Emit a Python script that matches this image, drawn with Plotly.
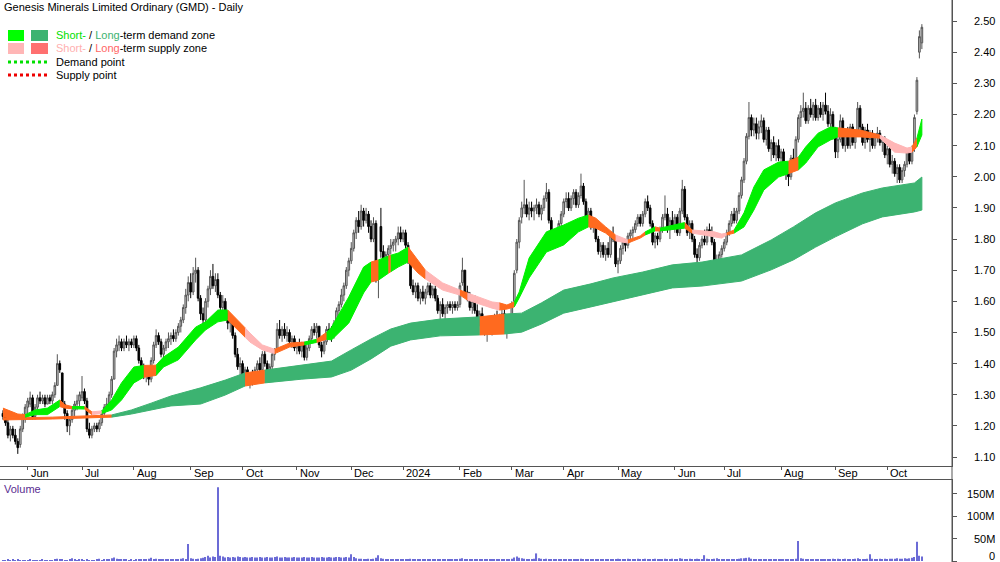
import plotly.graph_objects as go
import pandas as pd

# ---------------- data ----------------
start_date = "2023-05-18"

opens = [
1.24,1.23,1.21,1.17,1.19,1.17,1.15,1.14,1.19,1.22,
1.26,1.27,1.29,1.23,1.26,1.29,1.28,1.29,1.27,1.29,
1.28,1.30,1.33,1.40,1.37,1.27,1.24,1.20,1.22,1.25,
1.27,1.28,1.29,1.31,1.28,1.19,1.17,1.19,1.20,1.19,
1.21,1.24,1.26,1.27,1.30,1.35,1.44,1.46,1.47,1.45,
1.47,1.46,1.47,1.46,1.48,1.45,1.41,1.38,1.36,1.37,
1.35,1.41,1.46,1.49,1.47,1.43,1.45,1.47,1.48,1.49,
1.48,1.50,1.52,1.54,1.58,1.62,1.66,1.63,1.69,1.70,
1.61,1.56,1.54,1.60,1.64,1.68,1.65,1.67,1.62,1.58,
1.60,1.56,1.53,1.54,1.49,1.43,1.39,1.40,1.36,1.38,
1.34,1.36,1.35,1.38,1.40,1.38,1.43,1.40,1.36,1.39,
1.43,1.44,1.51,1.49,1.51,1.49,1.50,1.47,1.48,1.45,
1.46,1.44,1.46,1.42,1.45,1.48,1.51,1.50,1.52,1.46,
1.44,1.47,1.51,1.50,1.49,1.53,1.57,1.59,1.62,1.65,
1.70,1.73,1.77,1.82,1.86,1.84,1.89,1.86,1.88,1.84,
1.80,1.85,1.68,1.84,1.76,1.73,1.75,1.77,1.78,1.79,
1.80,1.82,1.80,1.82,1.78,1.73,1.65,1.63,1.65,1.61,
1.63,1.61,1.63,1.65,1.62,1.64,1.61,1.57,1.59,1.56,
1.58,1.59,1.58,1.59,1.58,1.59,1.66,1.70,1.63,1.62,
1.58,1.60,1.57,1.54,1.56,1.52,1.50,1.52,1.51,1.53,
1.55,1.53,1.55,1.56,1.51,1.54,1.55,1.60,1.70,1.79,
1.87,1.90,1.91,1.88,1.90,1.89,1.90,1.91,1.88,1.90,
1.93,1.95,1.86,1.81,1.79,1.82,1.85,1.88,1.92,1.93,
1.90,1.93,1.95,1.91,1.94,1.97,1.92,1.87,1.89,1.84,
1.85,1.80,1.76,1.78,1.75,1.77,1.75,1.81,1.80,1.72,
1.73,1.77,1.79,1.78,1.81,1.82,1.83,1.85,1.87,1.85,
1.88,1.92,1.90,1.85,1.79,1.81,1.80,1.83,1.87,1.88,
1.83,1.86,1.84,1.87,1.82,1.89,1.96,1.87,1.82,1.85,
1.80,1.75,1.74,1.78,1.80,1.79,1.83,1.82,1.79,1.72,
1.73,1.75,1.77,1.79,1.82,1.85,1.88,1.86,1.89,1.94,
1.99,2.05,2.13,2.19,2.15,2.17,2.14,2.16,2.18,2.12,
2.15,2.09,2.11,2.07,2.10,2.06,2.08,2.03,2.02,2.00,
2.06,2.04,2.12,2.19,2.21,2.22,2.18,2.22,2.20,2.23,
2.19,2.22,2.20,2.23,2.21,2.17,2.20,2.13,2.08,2.12,
2.18,2.10,2.14,2.10,2.16,2.11,2.14,2.22,2.16,2.11,
2.15,2.12,2.14,2.10,2.13,2.14,2.11,2.12,2.07,2.09,
2.04,2.05,2.01,2.03,1.99,2.02,2.04,2.08,2.05,2.09,
2.21,2.40,2.43]

highs = [
1.25,1.24,1.22,1.20,1.20,1.19,1.16,1.20,1.24,1.27,
1.29,1.31,1.30,1.27,1.30,1.31,1.30,1.30,1.30,1.30,
1.31,1.34,1.43,1.41,1.37,1.28,1.25,1.23,1.26,1.28,
1.30,1.31,1.36,1.32,1.29,1.21,1.20,1.21,1.21,1.22,
1.25,1.27,1.29,1.31,1.36,1.45,1.48,1.49,1.48,1.48,
1.49,1.48,1.48,1.49,1.49,1.46,1.42,1.40,1.38,1.39,
1.42,1.47,1.51,1.50,1.48,1.46,1.48,1.50,1.50,1.51,
1.51,1.53,1.55,1.59,1.64,1.68,1.69,1.71,1.74,1.71,
1.62,1.58,1.61,1.65,1.70,1.72,1.69,1.69,1.63,1.62,
1.61,1.57,1.55,1.55,1.50,1.45,1.42,1.41,1.39,1.39,
1.37,1.38,1.39,1.41,1.42,1.44,1.44,1.41,1.40,1.44,
1.45,1.53,1.54,1.52,1.53,1.52,1.51,1.49,1.49,1.47,
1.48,1.47,1.47,1.46,1.49,1.52,1.53,1.53,1.52,1.47,
1.48,1.52,1.53,1.52,1.54,1.58,1.60,1.64,1.66,1.71,
1.74,1.79,1.83,1.87,1.89,1.91,1.90,1.90,1.89,1.86,
1.87,1.86,1.72,1.90,1.78,1.76,1.78,1.80,1.80,1.81,
1.84,1.84,1.83,1.83,1.79,1.74,1.67,1.66,1.66,1.64,
1.65,1.64,1.66,1.66,1.65,1.65,1.62,1.60,1.61,1.59,
1.60,1.60,1.60,1.60,1.60,1.66,1.74,1.70,1.65,1.63,
1.61,1.62,1.59,1.57,1.58,1.54,1.53,1.54,1.54,1.56,
1.57,1.56,1.58,1.58,1.55,1.56,1.60,1.70,1.80,1.87,
1.92,1.99,1.93,1.92,1.92,1.91,1.93,1.92,1.91,1.94,
1.98,1.96,1.87,1.83,1.83,1.86,1.89,1.93,1.95,1.95,
1.94,1.96,1.96,1.95,2.01,1.98,1.93,1.90,1.90,1.87,
1.86,1.81,1.79,1.79,1.78,1.79,1.82,1.84,1.81,1.74,
1.78,1.80,1.80,1.82,1.83,1.84,1.86,1.88,1.88,1.89,
1.93,1.94,1.91,1.86,1.82,1.82,1.84,1.88,1.94,1.90,
1.87,1.89,1.88,1.88,1.90,1.99,1.97,1.88,1.86,1.86,
1.81,1.77,1.79,1.81,1.83,1.84,1.85,1.84,1.80,1.75,
1.76,1.78,1.80,1.83,1.86,1.89,1.90,1.90,1.95,2.00,
2.06,2.14,2.24,2.20,2.19,2.19,2.18,2.20,2.19,2.16,
2.16,2.12,2.13,2.11,2.12,2.09,2.09,2.05,2.04,2.07,
2.09,2.13,2.20,2.23,2.27,2.24,2.23,2.25,2.24,2.25,
2.23,2.24,2.24,2.27,2.23,2.22,2.21,2.16,2.13,2.20,
2.19,2.15,2.16,2.17,2.17,2.15,2.24,2.23,2.17,2.16,
2.17,2.15,2.15,2.14,2.16,2.15,2.13,2.13,2.10,2.10,
2.07,2.06,2.04,2.04,2.03,2.05,2.09,2.09,2.10,2.20,
2.32,2.47,2.49]

lows = [
1.22,1.20,1.16,1.15,1.16,1.14,1.11,1.13,1.18,1.21,
1.24,1.26,1.22,1.22,1.25,1.27,1.27,1.26,1.27,1.27,
1.27,1.29,1.33,1.37,1.26,1.22,1.18,1.17,1.21,1.23,
1.25,1.26,1.28,1.27,1.18,1.16,1.16,1.18,1.18,1.18,
1.20,1.23,1.25,1.26,1.29,1.35,1.42,1.44,1.44,1.44,
1.45,1.44,1.45,1.45,1.44,1.40,1.37,1.35,1.34,1.33,
1.34,1.40,1.45,1.46,1.42,1.41,1.44,1.45,1.46,1.47,
1.47,1.49,1.50,1.53,1.56,1.60,1.61,1.62,1.66,1.60,
1.54,1.51,1.53,1.58,1.62,1.64,1.63,1.61,1.56,1.55,
1.55,1.51,1.50,1.48,1.42,1.38,1.36,1.35,1.34,1.33,
1.32,1.33,1.34,1.36,1.37,1.37,1.39,1.35,1.34,1.38,
1.41,1.44,1.48,1.47,1.48,1.47,1.46,1.45,1.44,1.43,
1.43,1.42,1.41,1.41,1.44,1.47,1.49,1.48,1.45,1.42,
1.43,1.46,1.49,1.47,1.48,1.52,1.55,1.58,1.60,1.64,
1.68,1.72,1.76,1.80,1.82,1.83,1.84,1.85,1.82,1.79,
1.79,1.66,1.61,1.74,1.71,1.71,1.73,1.75,1.76,1.76,
1.78,1.79,1.79,1.77,1.72,1.64,1.62,1.61,1.60,1.59,
1.60,1.59,1.62,1.61,1.61,1.60,1.56,1.53,1.55,1.53,
1.56,1.57,1.56,1.57,1.57,1.58,1.65,1.62,1.60,1.57,
1.56,1.56,1.53,1.52,1.51,1.49,1.47,1.50,1.49,1.52,
1.52,1.51,1.54,1.50,1.48,1.52,1.54,1.59,1.69,1.77,
1.85,1.88,1.87,1.86,1.87,1.86,1.88,1.87,1.86,1.89,
1.92,1.85,1.80,1.77,1.78,1.81,1.83,1.87,1.90,1.89,
1.89,1.91,1.90,1.90,1.93,1.91,1.86,1.85,1.83,1.82,
1.79,1.75,1.74,1.74,1.73,1.74,1.74,1.79,1.71,1.69,
1.72,1.75,1.76,1.77,1.79,1.80,1.82,1.84,1.84,1.84,
1.87,1.89,1.84,1.78,1.77,1.78,1.79,1.82,1.86,1.82,
1.80,1.83,1.82,1.81,1.81,1.88,1.86,1.81,1.80,1.79,
1.74,1.72,1.73,1.77,1.78,1.78,1.81,1.78,1.71,1.68,
1.72,1.74,1.76,1.78,1.81,1.84,1.85,1.85,1.88,1.93,
1.98,2.04,2.12,2.13,2.13,2.12,2.12,2.14,2.11,2.10,
2.08,2.05,2.06,2.05,2.05,2.04,2.02,1.99,1.97,1.99,
2.03,2.03,2.11,2.16,2.19,2.17,2.17,2.19,2.18,2.18,
2.18,2.19,2.18,2.20,2.16,2.12,2.12,2.06,2.06,2.11,
2.09,2.08,2.09,2.09,2.10,2.09,2.13,2.15,2.10,2.09,
2.11,2.08,2.09,2.09,2.11,2.10,2.08,2.06,2.04,2.03,
2.01,2.00,1.98,1.98,1.98,2.00,2.03,2.04,2.04,2.08,
2.20,2.38,2.41]

closes = [
1.23,1.21,1.17,1.19,1.17,1.15,1.13,1.19,1.23,1.26,
1.28,1.29,1.23,1.26,1.29,1.28,1.29,1.27,1.29,1.28,
1.30,1.33,1.40,1.38,1.27,1.24,1.20,1.22,1.25,1.27,
1.28,1.30,1.31,1.28,1.19,1.17,1.19,1.20,1.19,1.21,
1.24,1.26,1.27,1.30,1.35,1.44,1.46,1.47,1.45,1.47,
1.46,1.47,1.46,1.48,1.45,1.41,1.38,1.36,1.37,1.35,
1.41,1.46,1.49,1.47,1.43,1.45,1.47,1.48,1.49,1.48,
1.50,1.52,1.54,1.58,1.62,1.66,1.63,1.69,1.70,1.61,
1.56,1.54,1.60,1.64,1.68,1.65,1.67,1.62,1.58,1.60,
1.56,1.53,1.54,1.49,1.43,1.39,1.40,1.36,1.38,1.34,
1.36,1.35,1.38,1.40,1.38,1.43,1.40,1.36,1.39,1.43,
1.44,1.51,1.49,1.51,1.49,1.50,1.47,1.48,1.45,1.46,
1.44,1.46,1.42,1.45,1.48,1.51,1.50,1.52,1.46,1.44,
1.47,1.51,1.50,1.49,1.53,1.57,1.59,1.62,1.65,1.70,
1.73,1.77,1.82,1.86,1.84,1.89,1.86,1.88,1.84,1.80,
1.85,1.68,1.70,1.76,1.73,1.75,1.77,1.78,1.79,1.80,
1.82,1.80,1.82,1.78,1.73,1.65,1.63,1.65,1.61,1.63,
1.61,1.63,1.65,1.62,1.64,1.61,1.57,1.59,1.56,1.58,
1.59,1.58,1.59,1.58,1.59,1.65,1.70,1.63,1.62,1.58,
1.60,1.57,1.54,1.56,1.52,1.50,1.52,1.51,1.53,1.55,
1.53,1.55,1.56,1.51,1.54,1.55,1.59,1.69,1.79,1.86,
1.90,1.91,1.88,1.90,1.89,1.90,1.91,1.88,1.90,1.93,
1.95,1.86,1.81,1.79,1.82,1.85,1.88,1.92,1.93,1.90,
1.93,1.95,1.91,1.94,1.97,1.92,1.87,1.89,1.84,1.85,
1.80,1.76,1.78,1.75,1.77,1.75,1.81,1.80,1.72,1.73,
1.77,1.79,1.78,1.81,1.82,1.83,1.85,1.87,1.85,1.88,
1.92,1.90,1.85,1.79,1.81,1.80,1.83,1.87,1.88,1.83,
1.86,1.84,1.87,1.82,1.89,1.96,1.87,1.82,1.85,1.80,
1.75,1.74,1.78,1.80,1.79,1.83,1.82,1.79,1.72,1.73,
1.75,1.77,1.79,1.82,1.85,1.88,1.86,1.89,1.94,1.99,
2.05,2.13,2.19,2.15,2.17,2.14,2.16,2.18,2.12,2.15,
2.09,2.11,2.07,2.10,2.06,2.08,2.03,2.02,2.00,2.06,
2.04,2.12,2.19,2.21,2.22,2.18,2.22,2.20,2.23,2.19,
2.22,2.20,2.23,2.21,2.17,2.20,2.13,2.08,2.12,2.18,
2.10,2.14,2.10,2.16,2.11,2.14,2.22,2.16,2.11,2.15,
2.12,2.14,2.10,2.13,2.14,2.11,2.12,2.07,2.09,2.04,
2.05,2.01,2.03,1.99,2.02,2.04,2.08,2.05,2.09,2.19,
2.31,2.45,2.48]

volume_m = [
2,1.5,3,2,2.5,2,3,2,1.5,2,
2,3,2,1.5,2,2,3,2,2,1.5,
2,3,5,3,2.5,2,2,3,6,3,
2,3,4,2,3,2,2,2,3,5,
2,3,3,4,6,8,5,4,3,3,
3,2,3,2,3,4,3,3,4,5,
7,4,5,3,3,3,4,3,3,4,
4,3,5,6,4,38,6,5,4,5,
6,7,9,12,8,10,9,165,12,10,
8,9,8,9,8,10,9,8,9,8,
8,9,8,8,9,8,8,9,8,8,
9,10,8,8,9,8,8,8,9,8,
8,8,9,8,8,9,8,8,8,9,
8,8,9,8,8,9,9,8,8,9,
8,15,9,6,5,5,4,4,5,4,
5,7,13,6,5,4,4,3,4,3,
3,4,3,3,4,5,4,3,3,3,
3,4,3,3,3,4,3,3,4,3,
3,3,4,3,3,5,6,4,3,3,
3,4,3,3,3,3,4,3,3,3,
3,4,3,4,3,4,5,8,10,7,
6,5,4,4,4,5,17,6,5,4,
5,4,4,3,3,4,4,3,4,3,
3,4,3,4,5,4,3,3,4,3,
4,3,3,4,3,3,4,3,4,5,
4,4,4,5,4,4,4,5,4,4,
5,4,4,4,5,4,4,4,5,4,
4,5,4,4,6,5,4,4,5,4,
4,5,4,4,13,5,4,4,5,6,
4,4,4,3,4,3,4,4,5,6,
6,7,8,5,4,4,4,3,4,4,
3,4,4,3,4,4,3,4,4,3,
4,5,45,6,5,4,4,4,4,3,
4,4,3,4,4,4,5,4,5,4,
4,5,4,4,4,5,6,4,4,4,
5,15,5,4,4,5,4,5,4,5,
5,5,6,5,5,6,5,6,7,9,
43,12,10]

# Short-term zone: sample day index, upper / lower edge, state of the segment that starts here
# d = demand (green), s = supply (pink), x = contested (orange)
short_idx = [0,6,9,13,18,23,25,28,33,36,40,44,48,53,57,62,65,71,78,82,87,91,95,98,100,105,110,116,
             122,127,131,133,140,146,149,152,156,157,160,164,168,171,178,185,188,198,201,204,207,209,
             213,220,227,233,237,240,244,248,253,258,260,264,266,271,276,279,288,291,293,296,300,304,
             308,314,318,322,325,330,335,338,347,355,361,366,368,370,372]
short_top = [1.257,1.238,1.236,1.251,1.257,1.283,1.268,1.262,1.262,1.245,1.248,1.283,1.338,1.389,1.394,
             1.395,1.421,1.453,1.517,1.534,1.572,1.572,1.540,1.515,1.498,1.460,1.446,1.466,1.469,1.478,
             1.500,1.517,1.614,1.710,1.726,1.733,1.745,1.748,1.755,1.774,1.733,1.700,1.659,1.636,1.627,
             1.598,1.595,1.588,1.598,1.630,1.739,1.823,1.845,1.867,1.877,1.867,1.839,1.813,1.797,1.810,
             1.823,1.839,1.835,1.845,1.853,1.829,1.823,1.816,1.819,1.829,1.884,1.967,2.022,2.047,2.050,
             2.063,2.096,2.140,2.160,2.157,2.150,2.134,2.108,2.092,2.096,2.124,2.185]
short_bot = [1.228,1.225,1.228,1.236,1.236,1.262,1.257,1.255,1.254,1.236,1.240,1.251,1.283,1.338,1.356,
             1.362,1.389,1.412,1.476,1.508,1.534,1.540,1.508,1.485,1.469,1.444,1.432,1.453,1.460,1.468,
             1.478,1.476,1.530,1.627,1.662,1.668,1.690,1.695,1.710,1.726,1.691,1.672,1.636,1.620,1.604,
             1.578,1.572,1.575,1.582,1.611,1.675,1.758,1.781,1.823,1.839,1.835,1.819,1.794,1.787,1.803,
             1.813,1.826,1.826,1.830,1.835,1.819,1.807,1.803,1.813,1.819,1.839,1.893,1.957,1.999,2.010,
             2.022,2.044,2.096,2.118,2.128,2.128,2.124,2.079,2.076,2.079,2.096,2.134]
short_state = ["x","x","d","d","d","x","x","d","x","s","d","d","d","d","x","d","d","d","d","d","d","x","x",
               "s","s","s","x","x","d","x","d","d","d","d","x","d","x","d","d","x","x","s","s","x","s","s",
               "x","x","d","d","d","d","d","d","x","x","x","s","x","x","d","x","d","d","x","s","s","s","x",
               "d","d","d","d","d","x","d","d","d","d","x","x","s","s","s","x","d","d"]

# Long-term zone
long_idx = [0,20,44,52,60,68,80,90,98,106,121,133,141,149,157,165,177,193,203,210,218,227,238,247,259,
            271,283,299,311,320,329,337,348,356,369,372]
long_top = [1.225,1.228,1.235,1.251,1.273,1.296,1.322,1.347,1.370,1.379,1.395,1.408,1.444,1.479,1.511,
            1.530,1.543,1.550,1.559,1.562,1.595,1.636,1.656,1.675,1.694,1.717,1.726,1.749,1.797,1.839,
            1.884,1.916,1.948,1.964,1.980,1.999]
long_bot = [1.219,1.222,1.228,1.238,1.251,1.264,1.270,1.299,1.328,1.338,1.350,1.357,1.379,1.415,1.456,
            1.476,1.489,1.492,1.495,1.501,1.527,1.562,1.582,1.598,1.620,1.643,1.649,1.665,1.701,1.733,
            1.774,1.807,1.849,1.871,1.887,1.893]
long_state = ["x","x","d","d","d","d","d","d","x","d","d","d","d","d","d","d","d","x","d","d","d","d",
              "d","d","d","d","d","d","d","d","d","d","d","d","d","d"]

price_ticks = [1.10,1.20,1.30,1.40,1.50,1.60,1.70,1.80,1.90,2.00,2.10,2.20,2.30,2.40,2.50]
volume_ticks = [0, 50e6, 100e6, 150e6]
volume_tick_text = ["0", "50M", "100M", "150M"]

# ---------------- figure ----------------
W, H = 1000, 562
n = len(closes)
idx = list(range(n))
dates = pd.bdate_range(start_date, periods=n)
volumes = [v * 1e6 for v in volume_m]

def px_x(px):
    return px / W

def px_y(py):
    return 1 - py / H

FONT = "Arial, Liberation Sans, sans-serif"

short_colors = {"d": "#00f000", "s": "#ffb6b6", "x": "#ff6a1f"}
long_colors = {"d": "#3cb371", "s": "#ff7070", "x": "#ff6a1f"}

fig = go.Figure()

def add_band(bidx, top, bot, state, colors):
    k = 0
    m = len(bidx)
    while k < m - 1:
        s = state[k]
        j = k
        while j < m - 1 and state[j] == s:
            j += 1
        xs = bidx[k:j + 1] + bidx[k:j + 1][::-1]
        ys = top[k:j + 1] + bot[k:j + 1][::-1]
        fig.add_trace(go.Scatter(x=xs, y=ys, fill="toself", fillcolor=colors[s], mode="lines",
                                 line=dict(color=colors[s], width=1), hoverinfo="skip",
                                 showlegend=False, xaxis="x", yaxis="y"))
        k = j

add_band(long_idx, long_top, long_bot, long_state, long_colors)
add_band(short_idx, short_top, short_bot, short_state, short_colors)

fig.add_trace(go.Candlestick(
    x=idx, open=opens, high=highs, low=lows, close=closes,
    increasing=dict(line=dict(color="#555555", width=1), fillcolor="#c4c4c4"),
    decreasing=dict(line=dict(color="#000000", width=1), fillcolor="#000000"),
    whiskerwidth=0, showlegend=False, xaxis="x", yaxis="y"))

fig.add_trace(go.Bar(x=idx, y=volumes, marker=dict(color="#6b6bd6", line=dict(width=0)),
                     showlegend=False, xaxis="x2", yaxis="y2"))

# month ticks
month_idx, month_txt = [], []
prev = None
for i, d in enumerate(dates):
    key = (d.year, d.month)
    if prev is not None and key != prev:
        month_idx.append(i)
        month_txt.append(str(d.year) if d.month == 1 else d.strftime("%b"))
    prev = key

x_range = [-1.2, 384.2]
dom_x = [0, 0.952]

fig.update_layout(
    width=W, height=H,
    margin=dict(l=0, r=0, t=0, b=0),
    paper_bgcolor="white", plot_bgcolor="white",
    bargap=0.55,
    boxgap=0.05,
    font=dict(family=FONT, size=11, color="#000000"),
    xaxis=dict(domain=dom_x, range=x_range, anchor="y", showgrid=False, zeroline=False,
               showline=True, linecolor="#555555", linewidth=1, ticks="outside", ticklen=3,
               tickcolor="#555555", tickvals=month_idx, showticklabels=False,
               rangeslider=dict(visible=False)),
    yaxis=dict(domain=[1 - 466 / H, 1], range=[1.0711, 2.5676], side="right", anchor="x",
               showgrid=False, zeroline=False, showline=True, linecolor="#555555", linewidth=1,
               ticks="outside", ticklen=4, tickcolor="#555555", tickvals=price_ticks,
               showticklabels=False),
    xaxis2=dict(domain=dom_x, range=x_range, anchor="y2", side="top", showgrid=False,
                zeroline=False, showline=True, linecolor="#555555", linewidth=1,
                showticklabels=False, ticks=""),
    yaxis2=dict(domain=[0, 1 - 480 / H], range=[-2.24e6, 181.3e6], side="right", anchor="x2",
                showgrid=False, zeroline=False, showline=True, linecolor="#555555", linewidth=1,
                ticks="outside", ticklen=4, tickcolor="#555555", tickvals=volume_ticks,
                showticklabels=False),
)

annotations = []
shapes = []

# month labels
for mi, mt in zip(month_idx, month_txt):
    annotations.append(dict(x=mi, xref="x", y=px_y(473), yref="paper", text=mt, showarrow=False,
                            xanchor="left", yanchor="middle", xshift=1,
                            font=dict(family=FONT, size=11, color="#000000")))

# price labels (right aligned)
for p in price_ticks:
    annotations.append(dict(x=0.997, xref="paper", y=p, yref="y", text=f"{p:.2f}", showarrow=False,
                            xanchor="right", yanchor="middle",
                            font=dict(family=FONT, size=11, color="#000000")))
for v, t in zip(volume_ticks, volume_tick_text):
    if v == 0:
        annotations.append(dict(x=0.997, xref="paper", y=0, yref="paper", text=t, showarrow=False,
                                xanchor="right", yanchor="bottom", yshift=-2,
                                font=dict(family=FONT, size=11, color="#000000")))
    else:
        annotations.append(dict(x=0.997, xref="paper", y=v, yref="y2", text=t, showarrow=False,
                                xanchor="right", yanchor="middle",
                                font=dict(family=FONT, size=11, color="#000000")))

# title and legend
annotations.append(dict(x=px_x(2), y=px_y(7), xref="paper", yref="paper", xanchor="left",
                        yanchor="middle", showarrow=False,
                        text="Genesis Minerals Limited Ordinary (GMD) - Daily",
                        font=dict(family=FONT, size=11, color="#000000")))
annotations.append(dict(x=px_x(54), y=px_y(35), xref="paper", yref="paper", xanchor="left",
                        yanchor="middle", showarrow=False,
                        text='<span style="color:#00e000">Short-</span> / '
                             '<span style="color:#3cb371">Long</span>-term demand zone',
                        font=dict(family=FONT, size=11, color="#000000")))
annotations.append(dict(x=px_x(54), y=px_y(48), xref="paper", yref="paper", xanchor="left",
                        yanchor="middle", showarrow=False,
                        text='<span style="color:#ffb0b0">Short-</span> / '
                             '<span style="color:#ff6666">Long</span>-term supply zone',
                        font=dict(family=FONT, size=11, color="#000000")))
annotations.append(dict(x=px_x(54), y=px_y(62), xref="paper", yref="paper", xanchor="left",
                        yanchor="middle", showarrow=False, text="Demand point",
                        font=dict(family=FONT, size=11, color="#000000")))
annotations.append(dict(x=px_x(54), y=px_y(75), xref="paper", yref="paper", xanchor="left",
                        yanchor="middle", showarrow=False, text="Supply point",
                        font=dict(family=FONT, size=11, color="#000000")))
annotations.append(dict(x=px_x(2), y=px_y(489), xref="paper", yref="paper", xanchor="left",
                        yanchor="middle", showarrow=False, text="Volume",
                        font=dict(family=FONT, size=11, color="#5a2d91")))

def rect(x0, y0, x1, y1, color):
    shapes.append(dict(type="rect", xref="paper", yref="paper", x0=px_x(x0), x1=px_x(x1),
                       y0=px_y(y0), y1=px_y(y1), fillcolor=color, line=dict(width=0)))

rect(8, 30, 24, 41, "#00ff00")
rect(31, 30, 48, 41, "#3cb371")
rect(8, 43, 24, 54, "#ffb6b6")
rect(31, 43, 48, 54, "#ff7070")
shapes.append(dict(type="line", xref="paper", yref="paper", x0=px_x(8), x1=px_x(48),
                   y0=px_y(62), y1=px_y(62), line=dict(color="#00e000", width=3, dash="dot")))
shapes.append(dict(type="line", xref="paper", yref="paper", x0=px_x(8), x1=px_x(48),
                   y0=px_y(75), y1=px_y(75), line=dict(color="#ee0000", width=3, dash="dot")))
# continuous right axis line
shapes.append(dict(type="line", xref="paper", yref="paper", x0=0.952, x1=0.952, y0=0, y1=1,
                   line=dict(color="#555555", width=1)))

fig.update_layout(annotations=annotations, shapes=shapes)

fig.write_html("out.html")
